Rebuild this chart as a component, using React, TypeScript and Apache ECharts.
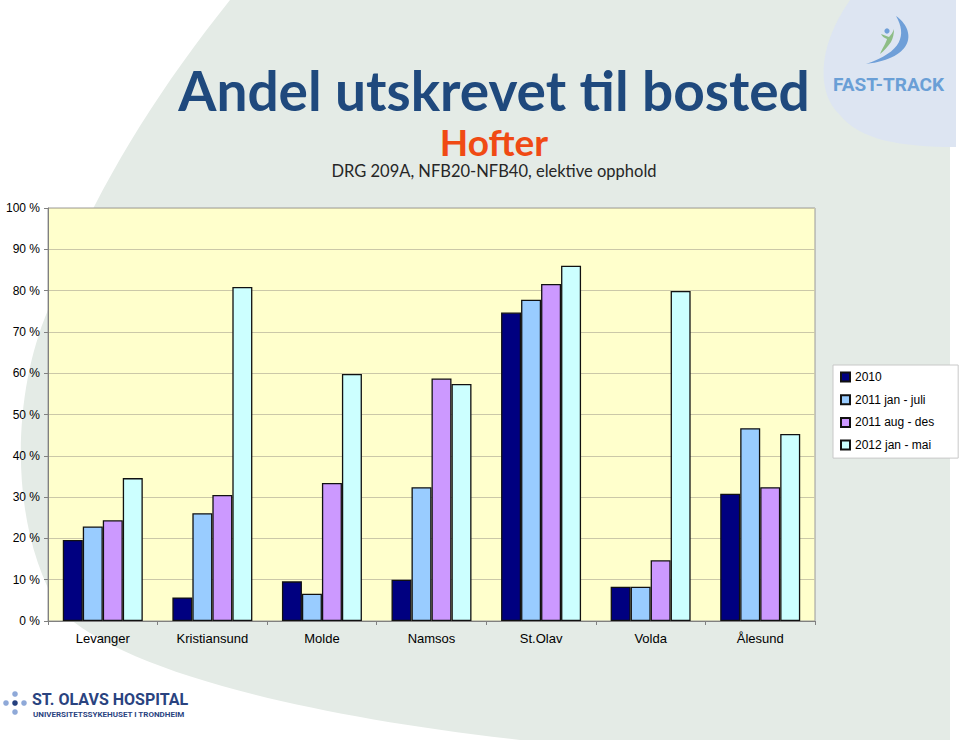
import React, { useEffect, useRef } from "react";
import * as echarts from "echarts";

const categories = ["Levanger", "Kristiansund", "Molde", "Namsos", "St.Olav", "Volda", "Ålesund"];
const seriesNames = ["2010", "2011 jan - juli", "2011 aug - des", "2012 jan - mai"];
const values2010 = [19.6, 5.7, 9.6, 10.0, 74.7, 8.3, 30.8];
const values2011a = [22.9, 26.1, 6.6, 32.4, 77.8, 8.3, 46.7];
const values2011b = [24.4, 30.5, 33.4, 58.7, 81.6, 14.7, 32.4];
const values2012 = [34.6, 80.9, 59.8, 57.4, 86.0, 79.9, 45.3];
const seriesColors = ["#000080", "#99ccff", "#cc99ff", "#ccffff"];
const yTicks = { min: 0, max: 100, interval: 10 };

let shapesRegistered = false;
function registerShapes() {
  if (shapesRegistered) return;
  shapesRegistered = true;
  echarts.graphic.registerShape(
    "paleBg",
    echarts.graphic.extendPath(
      "M 230 0 L 950 0 L 950 740 L 520 740 C 300 715 120 670 60 610 C 10 530 10 400 48 310 C 90 200 150 100 230 0 Z",
      {}
    )
  );
  echarts.graphic.registerShape(
    "ftBg",
    echarts.graphic.extendPath(
      "M 850 0 C 815 50 818 95 840 115 C 860 140 900 147 956 147 L 956 0 Z",
      {}
    )
  );
  echarts.graphic.registerShape(
    "swoosh",
    echarts.graphic.extendPath(
      "M 896 16 C 916 30 916 58 866 64 C 902 52 907 35 896 16 Z",
      {}
    )
  );
  echarts.graphic.registerShape(
    "figure",
    echarts.graphic.extendPath(
      "M 880 54 C 883 47 886 43 887 39 C 884 38 882 36 881 34 C 884 35 886 36 889 37 C 891 35 893 32 894 29 C 894 34 893 38 891 42 C 888 46 884 51 880 54 Z",
      {}
    )
  );
}

export default function App() {
  const ref = useRef<HTMLDivElement>(null);
  useEffect(() => {
    if (!ref.current) return;
    registerShapes();
    const chart = echarts.init(ref.current, undefined, { renderer: "svg" });
    const mk = (name: string, data: number[], color: string) => ({
      name,
      type: "bar",
      data,
      barGap: "0%",
      barCategoryGap: "27%",
      itemStyle: { color, borderColor: "#111", borderWidth: 1.3 },
    });
    chart.setOption({
      animation: false,
      backgroundColor: "#ffffff",
      textStyle: { fontFamily: "Arial, 'Liberation Sans', sans-serif" },
      graphic: [
        { type: "paleBg", z: -20, silent: true, style: { fill: "#e4ebe6" } },
        { type: "ftBg", z: -19, silent: true, style: { fill: "#dde5f2" } },
        { type: "swoosh", z: -18, silent: true, style: { fill: "#6f9fd8" } },
        { type: "figure", z: -18, silent: true, style: { fill: "#8dbd86" } },
        { type: "circle", z: -18, silent: true, shape: { cx: 887, cy: 31, r: 2.6 }, style: { fill: "#6f9fd8" } },
        {
          type: "text", z: -17, silent: true, left: 833, top: 75,
          style: { text: "FAST-TRACK", fill: "#6a9fd6", font: "bold 19px Roboto, sans-serif" },
        },
        {
          type: "text", z: 10, silent: true, x: 494, y: 89.5,
          style: {
            text: "Andel utskrevet til bosted", fill: "#1f497d",
            font: "bold 55px Lato, 'Open Sans', sans-serif", align: "center", verticalAlign: "middle",
            lineHeight: 50,
          },
        },
        {
          type: "text", z: 10, silent: true, x: 494, y: 141,
          style: {
            text: "Hofter", fill: "#f04a14",
            font: "bold 37px Lato, 'Open Sans', sans-serif", align: "center", verticalAlign: "middle",
            lineHeight: 34,
          },
        },
        {
          type: "text", z: 10, silent: true, x: 494, y: 171,
          style: {
            text: "DRG 209A, NFB20-NFB40, elektive opphold", fill: "#262626",
            font: "16.5px Lato, 'Open Sans', sans-serif", align: "center", verticalAlign: "middle",
            lineHeight: 17,
          },
        },
        { type: "circle", z: 10, silent: true, shape: { cx: 15, cy: 694, r: 2.8 }, style: { fill: "#8fa9d8" } },
        { type: "circle", z: 10, silent: true, shape: { cx: 6, cy: 703, r: 2.8 }, style: { fill: "#8fa9d8" } },
        { type: "circle", z: 10, silent: true, shape: { cx: 15, cy: 703, r: 2.8 }, style: { fill: "#25407e" } },
        { type: "circle", z: 10, silent: true, shape: { cx: 24, cy: 703, r: 2.8 }, style: { fill: "#8fa9d8" } },
        { type: "circle", z: 10, silent: true, shape: { cx: 15, cy: 712, r: 2.8 }, style: { fill: "#8fa9d8" } },
        {
          type: "text", z: 10, silent: true, left: 32, top: 691,
          style: { text: "ST. OLAVS HOSPITAL", fill: "#2a437f", font: "bold 16px Roboto, sans-serif" },
        },
        {
          type: "text", z: 10, silent: true, left: 33, top: 710,
          style: { text: "UNIVERSITETSSYKEHUSET I TRONDHEIM", fill: "#2a437f", font: "bold 8px Roboto, sans-serif" },
        },
      ],
      grid: {
        left: 48, right: 145, top: 208, bottom: 119,
        show: true, backgroundColor: "#ffffcc", borderColor: "#9a9a9a", borderWidth: 1,
        containLabel: false,
      },
      legend: {
        orient: "vertical",
        left: 833, top: 365,
        data: seriesNames,
        backgroundColor: "#ffffff",
        borderColor: "#c8c8c8",
        borderWidth: 1,
        padding: [5, 24, 6, 7],
        itemWidth: 9,
        itemHeight: 9,
        itemGap: 8.7,
        icon: "rect",
        textStyle: { fontSize: 12, color: "#000", lineHeight: 14, fontFamily: "Arial, 'Liberation Sans', sans-serif" },
      },
      xAxis: {
        type: "category",
        data: categories,
        axisLine: { show: true, lineStyle: { color: "#808080" } },
        axisTick: { show: true, length: 4, lineStyle: { color: "#808080" } },
        axisLabel: { color: "#000", fontSize: 13, margin: 11 },
      },
      yAxis: {
        type: "value",
        min: yTicks.min,
        max: yTicks.max,
        interval: yTicks.interval,
        axisLine: { show: true, lineStyle: { color: "#808080" } },
        axisTick: { show: true, length: 4, lineStyle: { color: "#808080" } },
        axisLabel: { color: "#000", fontSize: 12, margin: 8, formatter: "{value} %" },
        splitLine: { show: true, lineStyle: { color: "#cbc8a8", width: 1 } },
      },
      series: [
        mk(seriesNames[0], values2010, seriesColors[0]),
        mk(seriesNames[1], values2011a, seriesColors[1]),
        mk(seriesNames[2], values2011b, seriesColors[2]),
        mk(seriesNames[3], values2012, seriesColors[3]),
      ],
    });
    return () => chart.dispose();
  }, []);
  return (
    <div
      ref={ref}
      style={{ position: "fixed", left: 0, top: 0, width: 960, height: 740, background: "#fff" }}
    />
  );
}
